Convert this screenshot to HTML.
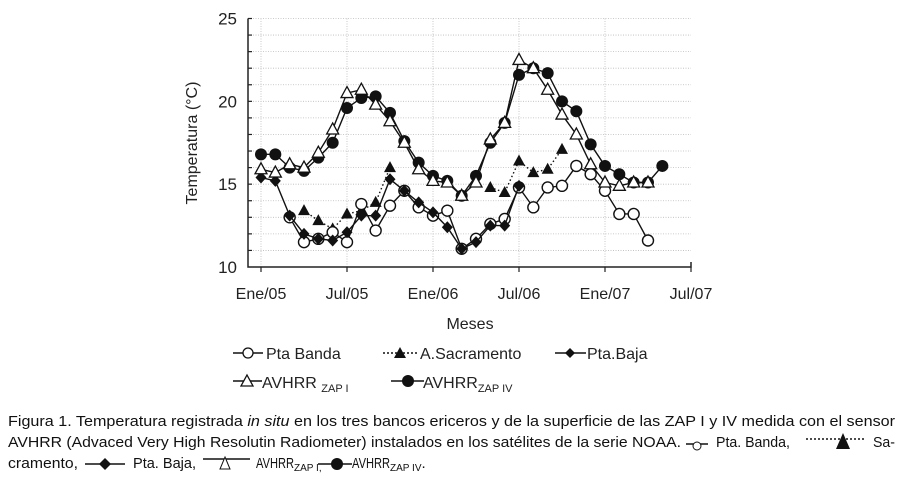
<!DOCTYPE html>
<html><head><meta charset="utf-8"><style>
html,body{margin:0;padding:0;background:#fff;}
svg{display:block;font-family:"Liberation Sans",sans-serif;}
.cap{font-family:"Liberation Sans Narrow","Liberation Sans",sans-serif;font-size:15px;fill:#111;}
</style></head><body>
<svg id="chart" width="903" height="486" viewBox="0 0 903 486">
<g id="grid"></g>
<g id="axes"></g>
<g id="series"></g>
<text x="197" y="143" transform="rotate(-90 197 143)" text-anchor="middle" font-size="16" fill="#222">Temperatura (°C)</text>
<text x="470" y="329" text-anchor="middle" font-size="16" fill="#222">Meses</text>
<g id="legend" font-size="16" fill="#222">
 <g>
  <line x1="233" y1="353" x2="263" y2="353" stroke="#111" stroke-width="1.5"/>
  <circle cx="248" cy="353" r="5" fill="#fff" stroke="#111" stroke-width="1.3"/>
  <text x="266" y="359">Pta Banda</text></g>
 <g>
  <line x1="383" y1="353" x2="417" y2="353" stroke="#111" stroke-width="1.5" stroke-dasharray="2,2"/>
  <path d="M400,347 L406,358 L394,358 Z" fill="#111"/>
  <text x="420" y="359">A.Sacramento</text></g>
 <g>
  <line x1="555" y1="353" x2="586" y2="353" stroke="#111" stroke-width="1.5"/>
  <path d="M570,348 L575,353 L570,358 L565,353 Z" fill="#111"/>
  <text x="587" y="359">Pta.Baja</text></g>
 <g>
  <line x1="233" y1="381" x2="262" y2="381" stroke="#111" stroke-width="1.5"/>
  <path d="M247,375 L253,386 L241,386 Z" fill="#fff" stroke="#111" stroke-width="1.3"/>
  <text x="262" y="388">AVHRR <tspan font-size="11" dy="4">ZAP I</tspan></text></g>
 <g>
  <line x1="391" y1="381" x2="424" y2="381" stroke="#111" stroke-width="1.5"/>
  <circle cx="408" cy="381" r="6" fill="#111"/>
  <text x="423" y="388">AVHRR<tspan font-size="11" dy="4">ZAP IV</tspan></text></g>
</g>
<g>
<text class="cap" x="8" y="426" textLength="887" lengthAdjust="spacingAndGlyphs">Figura 1. Temperatura registrada <tspan font-style="italic">in situ</tspan> en los tres bancos ericeros y de la superficie de las ZAP I y IV medida con el sensor</text>
<text class="cap" x="8" y="447" textLength="673" lengthAdjust="spacingAndGlyphs">AVHRR (Advaced Very High Resolutin Radiometer) instalados en los satélites de la serie NOAA.</text>
<line x1="686" y1="444" x2="708" y2="444" stroke="#111" stroke-width="1.5"/><circle cx="697" cy="446" r="4" fill="#fff" stroke="#111"/>
<text class="cap" x="716" y="447" textLength="74" lengthAdjust="spacingAndGlyphs">Pta. Banda,</text>
<line x1="806" y1="439" x2="866" y2="439" stroke="#111" stroke-width="1.5" stroke-dasharray="2,2"/><path d="M843,433 L850,449 L836,449 Z" fill="#111"/>
<text class="cap" x="873" y="447" textLength="22" lengthAdjust="spacingAndGlyphs">Sa-</text>
<text class="cap" x="8" y="468" textLength="70" lengthAdjust="spacingAndGlyphs">cramento,</text>
<line x1="85" y1="464" x2="125" y2="464" stroke="#111" stroke-width="1.5"/><path d="M105,458 L111,464 L105,470 L99,464 Z" fill="#111"/>
<text class="cap" x="133" y="468" textLength="63" lengthAdjust="spacingAndGlyphs">Pta. Baja,</text>
<line x1="203" y1="459" x2="250" y2="459" stroke="#111" stroke-width="1.5"/><path d="M225,457 L230,469 L220,469 Z" fill="#fff" stroke="#111"/>
<text class="cap" x="256" y="468"><tspan textLength="38" lengthAdjust="spacingAndGlyphs">AVHRR</tspan><tspan font-size="10" dy="3">ZAP I,</tspan></text>
<line x1="318" y1="464" x2="352" y2="464" stroke="#111" stroke-width="1.5"/><circle cx="337" cy="464" r="6" fill="#111"/>
<text class="cap" x="352" y="468"><tspan textLength="38" lengthAdjust="spacingAndGlyphs">AVHRR</tspan><tspan font-size="10" dy="3">ZAP IV</tspan><tspan dy="-3">.</tspan></text>
</g>
</svg>
<script>
const months = [0,1,2,3,4,5,6,7,8,9,10,11,12,13,14,15,16,17,18,19,20,21,22,23,24,25,26,27,28];
const xTickLabels = ["Ene/05","Jul/05","Ene/06","Jul/06","Ene/07","Jul/07"];
const yTickLabels = [10,15,20,25];
const zapIV = [16.8,16.8,16.0,15.8,16.6,17.5,19.6,20.2,20.3,19.3,17.6,16.3,15.5,15.2,14.3,15.5,17.5,18.7,21.6,22.0,21.7,20.0,19.4,17.4,16.1,15.6,15.1,15.1,16.1];
const zapI = [15.9,15.7,16.2,16.0,16.9,18.3,20.5,20.7,19.8,18.8,17.5,15.9,15.2,15.1,14.3,15.1,17.7,18.7,22.5,22.0,20.7,19.2,18.0,16.2,15.1,14.9,15.1,15.1,null];
const ptaBanda = [null,null,13.0,11.5,11.7,12.1,11.5,13.8,12.2,13.7,14.6,13.6,13.1,13.4,11.1,11.7,12.6,12.9,14.8,13.6,14.8,14.9,16.1,15.6,14.6,13.2,13.2,11.6,null];
const ptaBaja = [15.4,15.2,13.1,12.0,11.7,11.6,12.1,13.1,13.1,15.3,14.6,13.9,13.3,12.4,11.1,11.5,12.5,12.5,14.9,null,null,null,null,null,null,null,null,null,null];
const sacramento = [null,null,null,13.4,12.8,12.3,13.2,13.4,13.9,16.0,null,null,null,null,null,null,14.8,14.5,16.4,15.7,15.9,17.1,null,null,null,null,null,null,null];

const NS="http://www.w3.org/2000/svg";
const X0=248, X1=691, Y0=267, Y1=18.5;
const xs = m => 261 + m*(X1-261)/30;
const ys = v => Y0 - (v-10)*(Y0-Y1)/15;
function mk(tag, attrs, parent){const e=document.createElementNS(NS,tag);for(const k in attrs)e.setAttribute(k,attrs[k]);parent.appendChild(e);return e;}
const grid=document.getElementById('grid'), axes=document.getElementById('axes'), ser=document.getElementById('series');
for(let v=11; v<=25; v++){
  const l=mk('line',{x1:X0,x2:X1,y1:ys(v),y2:ys(v),stroke:'#bbb','stroke-width':0.8,'stroke-dasharray':'1,1.5'},grid);
  
  
  const t=mk('line',{x1:X0,x2:X0+4,y1:ys(v),y2:ys(v),stroke:'#222','stroke-width':1.2},axes);
  
  
}
xTickLabels.forEach((lab,i)=>{
  const x=xs(i*6);
  if(i<5){const g=mk('line',{x1:x,x2:x,y1:Y1,y2:Y0,stroke:'#bbb','stroke-width':0.8,'stroke-dasharray':'1,1.5'},grid);
  
  }
  const t=mk('line',{x1:x,x2:x,y1:Y0,y2:Y0+5,stroke:'#222','stroke-width':1.2},axes);
  
  
  const tx=mk('text',{x:x,y:299,'text-anchor':'middle','font-size':16,fill:'#222'},axes);
  tx.textContent=lab;
  
  
});
yTickLabels.forEach(v=>{
  const tx=mk('text',{x:237,y:ys(v)+6,'text-anchor':'end','font-size':17,fill:'#222'},axes);
  tx.textContent=v;
  
  
});
const ax=mk('path',{d:`M${X0},${Y1} L${X0},${Y0} L${X1},${Y0} L${X1},${Y0-5}`,fill:'none',stroke:'#222','stroke-width':1.5},axes);



function drawSeries(data,name,dash,marker){
  const g=mk('g',{},ser);
  
  
  let seg=[];
  const flush=()=>{if(seg.length>1){mk('polyline',{points:seg.join(' '),fill:'none',stroke:'#111','stroke-width':1.4,'stroke-dasharray':dash},g);}seg=[];};
  data.forEach((v,i)=>{if(v==null){flush();}else seg.push(xs(months[i])+','+ys(v));});
  flush();
  data.forEach((v,i)=>{
    if(v==null)return;
    const x=xs(months[i]), y=ys(v); let e;
    if(marker==='fcircle') e=mk('circle',{cx:x,cy:y,r:6,fill:'#111'},g);
    else if(marker==='ocircle') e=mk('circle',{cx:x,cy:y,r:5.5,fill:'#fff',stroke:'#111','stroke-width':1.4},g);
    else if(marker==='otri') e=mk('path',{d:`M${x},${y-6.5} L${x+6},${y+4.5} L${x-6},${y+4.5} Z`,fill:'#fff',stroke:'#111','stroke-width':1.3},g);
    else if(marker==='ftri') e=mk('path',{d:`M${x},${y-6.5} L${x+6},${y+4.5} L${x-6},${y+4.5} Z`,fill:'#111'},g);
    else e=mk('path',{d:`M${x},${y-6} L${x+5.5},${y} L${x},${y+6} L${x-5.5},${y} Z`,fill:'#111'},g);
    
    
  });
}
drawSeries(sacramento,'series-a-sacramento','1.5,2.5','ftri');
drawSeries(ptaBanda,'series-pta-banda','none','ocircle');
drawSeries(ptaBaja,'series-pta-baja','none','diamond');
drawSeries(zapIV,'series-avhrr-zap-iv','none','fcircle');
drawSeries(zapI,'series-avhrr-zap-i','none','otri');
</script>
</body></html>
